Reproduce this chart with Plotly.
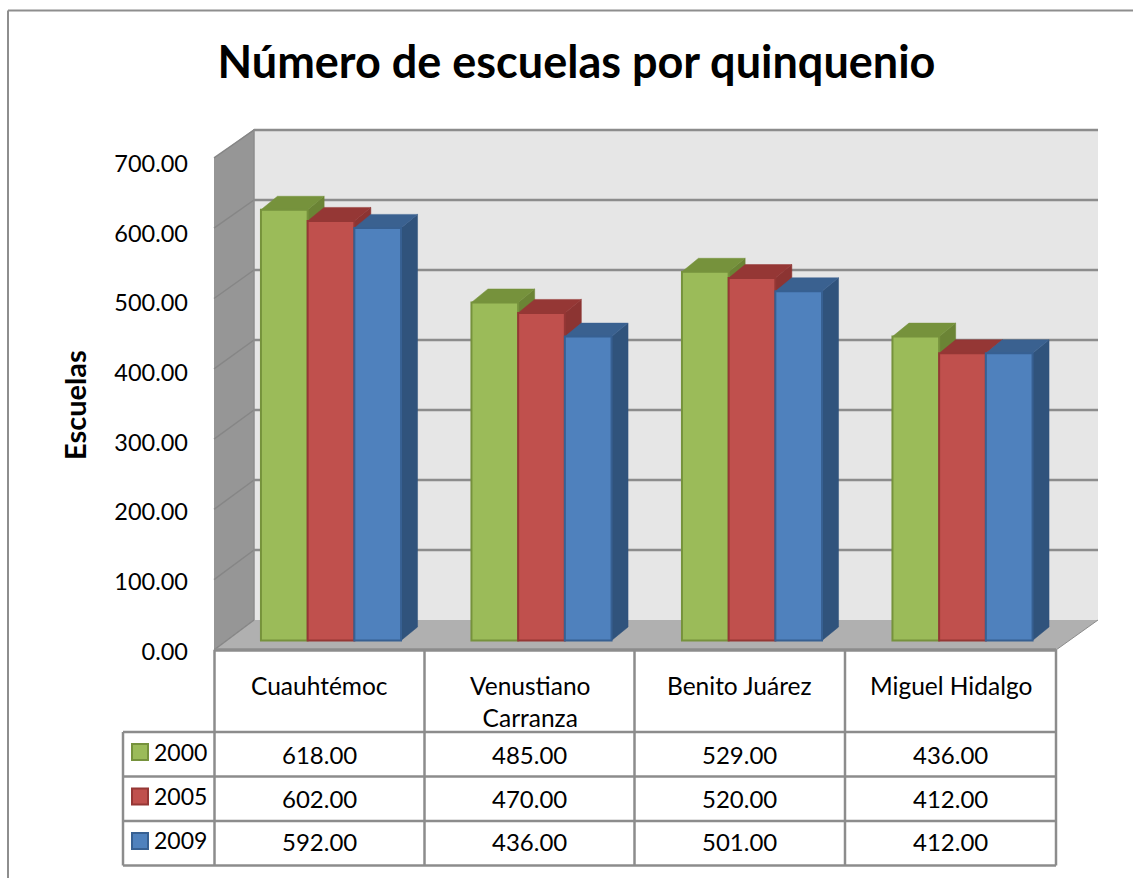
import plotly.graph_objects as go

categories = ["Cuauhtémoc", "Venustiano<br>Carranza", "Benito Juárez", "Miguel Hidalgo"]
years = ["2000", "2005", "2009"]
values_2000 = [618, 485, 529, 436]
values_2005 = [602, 470, 520, 412]
values_2009 = [592, 436, 501, 412]
y_ticks = [0, 100, 200, 300, 400, 500, 600, 700]

series = [values_2000, values_2005, values_2009]
FRONT = ["#9BBB59", "#C0504D", "#4F81BD"]
EDGE = ["#76923C", "#953735", "#376092"]
TOP = ["#76923C", "#953735", "#3A6190"]
SIDE = ["#6B8435", "#8C3432", "#30537C"]
GRID = "#8C8C8C"
FONT = "Lato"

W, H = 1133, 878
CAT_PX = 210.5
Y_SCALE = 0.697
X0_PX, X1_PX = 214, 1098
Y0_PX, Y1_PX = 651.5, 129
BAR_W = 46.7 / CAT_PX
GROUP_CENTER = (331 - X0_PX) / CAT_PX
BASE = (Y0_PX - 640.5) / Y_SCALE
DX = 16.5 / CAT_PX
DY = 13.5 / Y_SCALE


def px(x):
    return x / W


def py(y):
    return 1 - y / H


fig = go.Figure()
xrange_ = [0, (X1_PX - X0_PX) / CAT_PX]
yrange_ = [0, (Y0_PX - Y1_PX) / Y_SCALE]

# Depth faces, drawn under the bar fronts
for s, vals in enumerate(series):
    for face, color in (("side", SIDE[s]), ("top", TOP[s])):
        xs, ys = [], []
        for c, v in enumerate(vals):
            cx = c + GROUP_CENTER + (s - 1) * BAR_W
            x0, x1 = cx - BAR_W / 2, cx + BAR_W / 2
            yt = BASE + v
            if face == "side":
                xs += [x1, x1 + DX, x1 + DX, x1, x1, None]
                ys += [BASE, BASE + DY, yt + DY, yt, BASE, None]
            else:
                xs += [x0, x0 + DX, x1 + DX, x1, x0, None]
                ys += [yt, yt + DY, yt + DY, yt, yt, None]
        fig.add_trace(go.Scatter(x=xs, y=ys, mode="lines", fill="toself", fillcolor=color,
                                 line=dict(color=color, width=0.5), hoverinfo="skip",
                                 showlegend=False, xaxis="x", yaxis="y"))

# Bar fronts on an overlaid pair of axes with the same scale
for s, vals in enumerate(series):
    fig.add_trace(go.Bar(
        x=[c + GROUP_CENTER + (s - 1) * BAR_W for c in range(len(vals))],
        y=vals, base=BASE, width=BAR_W, name=years[s],
        marker=dict(color=FRONT[s], line=dict(color=EDGE[s], width=2)),
        showlegend=False, xaxis="x2", yaxis="y2"))

shapes = []


def line(x0, y0, x1, y1, color=GRID, width=2.5, layer="above"):
    shapes.append(dict(type="line", xref="paper", yref="paper", x0=px(x0), y0=py(y0), x1=px(x1), y1=py(y1),
                       line=dict(color=color, width=width), layer=layer))


def poly(points, color):
    d = "M " + " L ".join(f"{px(x):.5f},{py(y):.5f}" for x, y in points) + " Z"
    shapes.append(dict(type="path", xref="paper", yref="paper", path=d, fillcolor=color,
                       line=dict(width=0), layer="below"))


# Walls
poly([(254, 129), (1098, 129), (1098, 620), (254, 620)], "#E6E6E6")
poly([(214, 158), (254, 129), (254, 620), (214, 650)], "#969696")
poly([(214, 650), (254, 620), (1098, 620), (1056, 650)], "#B0B0B0")
for v in y_ticks:
    yb = 620 - v * 0.70
    yf = 650 - v * 0.703
    if v > 0:
        line(254, yb, 1098, yb, width=2.5, layer="below")
    line(214, yf, 254, yb, color="#868686", width=1.5, layer="below")
line(254, 129, 254, 620, color="#8C8C8C", width=1.5, layer="below")

# Outer frame
line(8, 10.5, W, 10.5, color="#8E8E8E", width=2)
line(8, 10.5, 8, H, color="#8E8E8E", width=2)

# Data table
col_x = [214.5, 424.5, 634.5, 845, 1056]
row_y = [732, 776.5, 821, 865.5]
line(214, 650, 1056, 650, width=3.5)
for x in col_x:
    line(x, 650, x, row_y[-1])
for y in row_y:
    line(123, y, 1056, y)
line(123, row_y[0], 123, row_y[-1])
line(1056, 650, 1098, 620, color="#8C8C8C", width=1)

annotations = []


def label(x, y, text, size=24, bold=False, angle=0, xanchor="center"):
    annotations.append(dict(x=px(x), y=py(y), xref="paper", yref="paper", text=f"<b>{text}</b>" if bold else text,
                            showarrow=False, xanchor=xanchor, yanchor="middle", textangle=angle,
                            font=dict(family=FONT, size=size, color="#000000")))


col_mid = [(a + b) / 2 for a, b in zip(col_x, col_x[1:])]
cat_y = [685, 701, 685, 685]
for c, name in enumerate(categories):
    label(col_mid[c], cat_y[c], name, size=24.5)
row_text_y = [754, 798, 841.5]
swatch_y = [752, 796.5, 841]
for s, vals in enumerate(series):
    for c, v in enumerate(vals):
        label(col_mid[c], row_text_y[s], f"{v:.2f}")
    label(152, row_text_y[s] - 2, years[s], size=23, xanchor="left")
    shapes.append(dict(type="rect", xref="paper", yref="paper", x0=px(132), x1=px(148),
                       y0=py(swatch_y[s] - 8), y1=py(swatch_y[s] + 8), fillcolor=FRONT[s],
                       line=dict(color=EDGE[s], width=2), layer="above"))
label(75, 405, "Escuelas", size=29, bold=True, angle=-90)

fig.update_layout(
    width=W, height=H, margin=dict(l=0, r=0, t=0, b=0, autoexpand=False),
    paper_bgcolor="white", plot_bgcolor="rgba(0,0,0,0)", showlegend=False, barmode="overlay",
    title=dict(text="<b>Número de escuelas por quinquenio</b>", x=576.5 / W, y=py(62), xref="paper", yref="paper",
               xanchor="center", yanchor="middle", font=dict(family=FONT, size=45, color="#000000")),
    xaxis=dict(domain=[px(X0_PX), px(X1_PX)], range=xrange_, visible=False, fixedrange=True),
    yaxis=dict(domain=[py(Y0_PX), py(Y1_PX)], range=yrange_, tickvals=y_ticks, tickformat=".2f",
               showgrid=False, zeroline=False, showline=False, ticks="", ticklabelstandoff=25,
               tickfont=dict(family=FONT, size=23.5, color="#000000"), fixedrange=True),
    xaxis2=dict(domain=[px(X0_PX), px(X1_PX)], range=xrange_, visible=False, overlaying="x", fixedrange=True),
    yaxis2=dict(domain=[py(Y0_PX), py(Y1_PX)], range=yrange_, visible=False, overlaying="y", fixedrange=True),
    shapes=shapes, annotations=annotations,
)

fig.write_html("out.html", config={"displayModeBar": False},
               post_script="document.body.style.margin='0';document.body.style.overflow='hidden';window.dispatchEvent(new Event('resize'));")
